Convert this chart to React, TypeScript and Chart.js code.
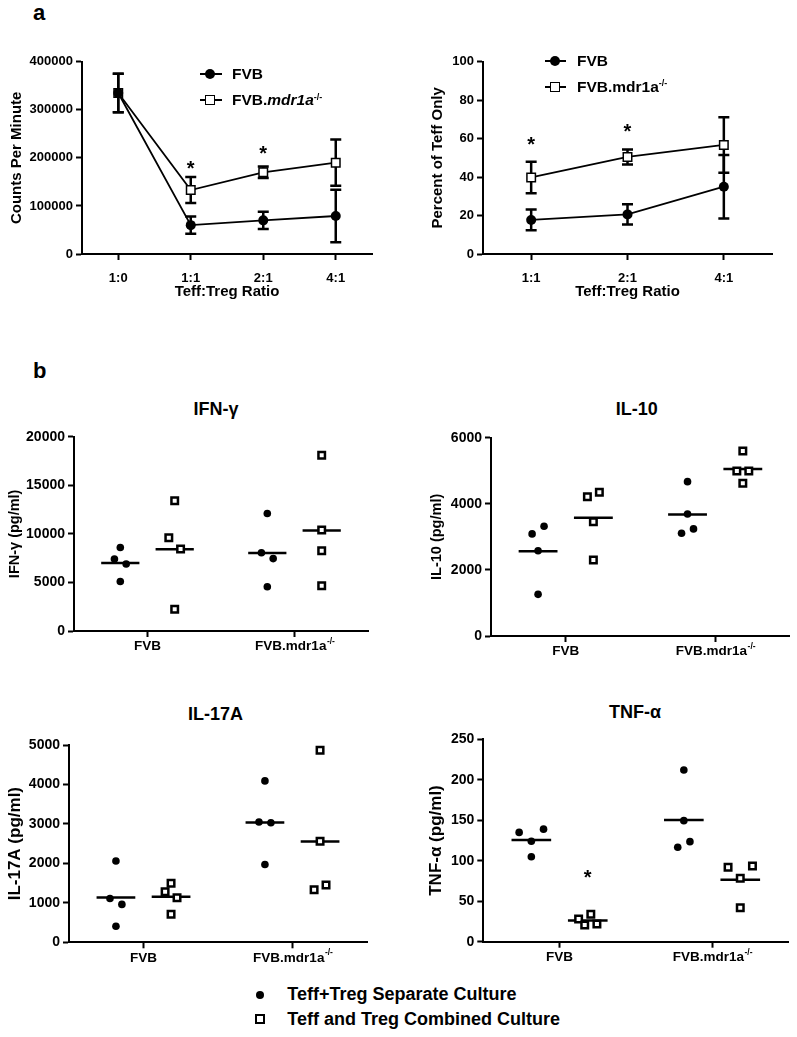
import React, { useEffect, useRef } from 'react';
import { Chart, registerables } from 'chart.js';

Chart.register(...registerables);

const FONT = '"Liberation Sans", Arial, Helvetica, sans-serif';
Chart.defaults.font.family = FONT;
Chart.defaults.color = '#000';

// ---------- Panel a data ----------
const ratioLabels = ['1:0', '1:1', '2:1', '4:1'];
const fvbCpm = [335000, 60000, 70000, 79000];
const fvbCpmSem = [40000, 18000, 18000, 54500];
const mdrCpm = [335000, 133000, 170000, 190000];
const mdrCpmSem = [40000, 27000, 12000, 48000];
const cpmStars = [null, 185000, 216000, null];

const pctLabels = ['1:1', '2:1', '4:1'];
const fvbPct = [17.7, 20.6, 35];
const fvbPctSem = [5.4, 5.3, 16.5];
const mdrPct = [39.8, 50.5, 56.7];
const mdrPctSem = [8.2, 3.9, 14.4];
const pctStars = [59, 65.5, null];

// ---------- Panel b data ----------
const strainLabels = ['FVB', 'FVB.mdr1a'];
const strainSup = ['', '-/-'];

// [FVB group, FVB.mdr1a-/- group]
const ifnSeparate = [[8600, 7400, 6900, 5100], [12100, 8050, 7450, 4550]];
const ifnCombined = [[13400, 9600, 8450, 2250], [18100, 10400, 8250, 4650]];
const ifnSeparateSlots = [[0, -1, 1, 0], [0, -1, 1, 0]];
const ifnCombinedSlots = [[0, -1, 1, 0], [0, 0, 0, 0]];

const il10Separate = [[3320, 3090, 2580, 1260], [4670, 3690, 3240, 3110]];
const il10Combined = [[4350, 4210, 3460, 2300], [5600, 4990, 4990, 4620]];
const il10SeparateSlots = [[1, -1, 0, 0], [0, 0, 1, -1]];
const il10CombinedSlots = [[1, -1, 0, 0], [0, -1, 1, 0]];

const il17Separate = [[2060, 1110, 960, 405], [4090, 3050, 3030, 1970]];
const il17Combined = [[1495, 1283, 1131, 710], [4870, 2560, 1450, 1330]];
const il17SeparateSlots = [[0, -1, 1, 0], [0, -1, 1, 0]];
const il17CombinedSlots = [[0, -1, 1, 0], [0, 0, 1, -1]];

const tnfSeparate = [[139, 135, 124, 105], [212, 149.5, 123.6, 116.6]];
const tnfCombined = [[33.8, 28, 21.9, 20.6], [93.5, 91.9, 78.3, 42]];
const tnfSeparateSlots = [[2, -2, 0, 0], [0, 0, 1, -1]];
const tnfCombinedSlots = [[0.5, -1.5, 1.5, -0.5], [2, -2, 0, 0]];
const tnfCombinedStars = [84, null];

// ---------- layout constants ----------
const GROUP_SHIFT = 0.185;
const SLOT = 0.04;
const MEAN_HALF = 0.13;
const TICK_LEN = 6;
const SUP_PAD = '  ';

const errorBarPlugin = {
  id: 'errorBars',
  beforeDatasetsDraw(chart: any) {
    const ctx = chart.ctx;
    const ys = chart.scales.y;
    chart.data.datasets.forEach((ds: any, di: number) => {
      if (!ds.errors) return;
      const meta = chart.getDatasetMeta(di);
      ctx.save();
      ctx.strokeStyle = '#000';
      ctx.lineWidth = 2.5;
      meta.data.forEach((pt: any, i: number) => {
        const v = ds.data[i];
        const e = ds.errors[i];
        if (v == null || e == null) return;
        const x = pt.x;
        const y1 = ys.getPixelForValue(v + e);
        const y2 = ys.getPixelForValue(v - e);
        ctx.beginPath();
        ctx.moveTo(x, y1);
        ctx.lineTo(x, y2);
        ctx.moveTo(x - 5.5, y1);
        ctx.lineTo(x + 5.5, y1);
        ctx.moveTo(x - 5.5, y2);
        ctx.lineTo(x + 5.5, y2);
        ctx.stroke();
      });
      ctx.restore();
    });
  },
};

const starPlugin = {
  id: 'stars',
  afterDatasetsDraw(chart: any, _a: any, opts: any) {
    const pts = (opts && opts.points) || [];
    const ctx = chart.ctx;
    ctx.save();
    ctx.font = `bold ${opts.size || 18}px ${FONT}`;
    ctx.fillStyle = '#000';
    ctx.textAlign = 'center';
    ctx.textBaseline = 'alphabetic';
    const m = ctx.measureText('*');
    const shift = (m.actualBoundingBoxAscent - m.actualBoundingBoxDescent) / 2;
    pts.forEach((p: any) => {
      const x = chart.scales.x.getPixelForValue(p.x);
      const y = chart.scales.y.getPixelForValue(p.y);
      ctx.fillText('*', x, y + shift);
    });
    ctx.restore();
  },
};

const meanPlugin = {
  id: 'meanLines',
  beforeDatasetsDraw(chart: any) {
    const ctx = chart.ctx;
    const xs = chart.scales.x;
    const ys = chart.scales.y;
    ctx.save();
    ctx.strokeStyle = '#000';
    ctx.lineWidth = 2.5;
    chart.data.datasets.forEach((ds: any) => {
      if (!ds.groups) return;
      ds.groups.forEach((vals: number[], g: number) => {
        const mean = vals.reduce((a, b) => a + b, 0) / vals.length;
        const c = g + ds.groupShift;
        const y = ys.getPixelForValue(mean);
        ctx.beginPath();
        ctx.moveTo(xs.getPixelForValue(c - MEAN_HALF), y);
        ctx.lineTo(xs.getPixelForValue(c + MEAN_HALF), y);
        ctx.stroke();
      });
    });
    ctx.restore();
  },
};

const supPlugin = {
  id: 'tickSup',
  afterDraw(chart: any, _a: any, opts: any) {
    const xs = chart.scales.x;
    const ctx = chart.ctx;
    const size = opts.fontSize;
    ctx.save();
    strainLabels.forEach((lab, i) => {
      const sup = strainSup[i];
      if (!sup) return;
      ctx.font = `bold ${size}px ${FONT}`;
      const wFull = ctx.measureText(lab + SUP_PAD).width;
      const wLab = ctx.measureText(lab).width;
      const x0 = xs.getPixelForValue(i) - wFull / 2 + wLab + 0.5;
      const yMid = xs.top + TICK_LEN + opts.padding + (size * 1.2) / 2;
      ctx.font = `bold ${opts.supSize}px ${FONT}`;
      ctx.textAlign = 'left';
      ctx.textBaseline = 'middle';
      ctx.fillStyle = '#000';
      ctx.fillText(sup, x0, yMid - opts.raise);
    });
    ctx.restore();
  },
};

type Box = {
  x: number; y: number; w: number; h: number;
  l: number; t: number; r: number; b: number;
  titleX: number; titleSize: number; tickSize: number; xH: number;
};

const boxes: Box[] = [
  { x: 0, y: 30, w: 398, h: 290, l: 82, t: 61.7, r: 372, b: 254, titleX: 16.7, titleSize: 15, tickSize: 13, xH: 50 },
  { x: 398, y: 30, w: 399, h: 290, l: 483, t: 61.7, r: 772, b: 254, titleX: 438.3, titleSize: 15, tickSize: 13, xH: 50 },
  { x: 0, y: 420, w: 398, h: 250, l: 74, t: 436.7, r: 368, b: 631, titleX: 15, titleSize: 14.5, tickSize: 14, xH: 30 },
  { x: 398, y: 420, w: 399, h: 250, l: 491, t: 437.7, r: 790, b: 636, titleX: 436.7, titleSize: 14.5, tickSize: 14, xH: 30 },
  { x: 0, y: 725, w: 398, h: 250, l: 69, t: 745, r: 367, b: 942.3, titleX: 15, titleSize: 17, tickSize: 14, xH: 30 },
  { x: 398, y: 725, w: 399, h: 250, l: 483.3, t: 739.3, r: 788.3, b: 941.7, titleX: 436.7, titleSize: 17, tickSize: 14, xH: 30 },
];

const bold = (size: number) => ({ family: FONT, size, weight: 'bold' as const });

function yAxis(box: Box, max: number, step: number, title: string) {
  const W = box.l - box.titleX + (box.titleSize * 1.2) / 2;
  return {
    min: 0,
    max,
    ticks: { stepSize: step, callback: (v: any) => String(v), font: bold(box.tickSize), color: '#000', padding: 3 },
    grid: { display: true, drawOnChartArea: false, drawTicks: true, tickLength: TICK_LEN, tickWidth: 2, tickColor: '#000' },
    border: { display: true, color: '#000', width: 2 },
    title: { display: true, text: title, font: bold(box.titleSize), color: '#000', padding: { top: 0, bottom: 0 } },
    afterFit: (s: any) => { s.width = W; },
  };
}

const baseOptions = {
  responsive: false,
  animation: false as const,
  devicePixelRatio: 1,
  events: [] as any[],
};

function lineConfig(box: Box, labels: string[], fvb: number[], fvbErr: number[], mdr: number[], mdrErr: number[],
  stars: (number | null)[], max: number, step: number, yTitle: string) {
  return {
    type: 'line',
    data: {
      labels,
      datasets: [
        { label: 'FVB', data: fvb, errors: fvbErr, borderColor: '#000', borderWidth: 1.8, pointStyle: 'circle', pointRadius: 5,
          pointBackgroundColor: '#000', pointBorderColor: '#000', pointBorderWidth: 0, order: 0, tension: 0, fill: false, clip: false },
        { label: 'FVB.mdr1a-/-', data: mdr, errors: mdrErr, borderColor: '#000', borderWidth: 1.8, pointStyle: 'rect', pointRadius: 6,
          pointBackgroundColor: '#fff', pointBorderColor: '#000', pointBorderWidth: 1.5, order: 1, tension: 0, fill: false, clip: false },
      ],
    },
    options: {
      ...baseOptions,
      layout: { padding: { left: 0, top: 20, right: 20, bottom: 10 } },
      scales: {
        x: {
          type: 'category',
          offset: true,
          ticks: { font: bold(box.tickSize), color: '#000', padding: 10.5, maxRotation: 0, autoSkip: false },
          grid: { display: true, offset: false, drawOnChartArea: false, drawTicks: true, tickLength: TICK_LEN, tickWidth: 2, tickColor: '#000' },
          border: { display: true, color: '#000', width: 2 },
          title: { display: true, text: 'Teff:Treg Ratio', font: bold(15), color: '#000', padding: { top: 0, bottom: 3 } },
          afterFit: (s: any) => { s.height = box.xH; },
        },
        y: yAxis(box, max, step, yTitle),
      },
      plugins: {
        legend: { display: false },
        tooltip: { enabled: false },
        stars: { size: 20, points: stars.map((v, i) => (v == null ? null : { x: i, y: v })).filter(Boolean) },
      },
    },
    plugins: [errorBarPlugin, starPlugin],
  };
}

function toPoints(groups: number[][], slots: number[][], shift: number) {
  const pts: { x: number; y: number }[] = [];
  groups.forEach((vals, g) => vals.forEach((v, i) => pts.push({ x: g + shift + slots[g][i] * SLOT, y: v })));
  return pts;
}

function scatterConfig(box: Box, sep: number[][], sepSlots: number[][], comb: number[][], combSlots: number[][],
  combStars: (number | null)[], max: number, step: number, yTitle: string) {
  const xTickSize = 13.5;
  const xPad = 1.5;
  return {
    type: 'scatter',
    data: {
      datasets: [
        { label: 'Teff+Treg Separate Culture', data: toPoints(sep, sepSlots, -GROUP_SHIFT), groups: sep, groupShift: -GROUP_SHIFT,
          pointStyle: 'circle', pointRadius: 3.8, pointBackgroundColor: '#000', backgroundColor: '#000', pointBorderWidth: 0, borderWidth: 0,
          showLine: false, clip: false },
        { label: 'Teff and Treg Combined Culture', data: toPoints(comb, combSlots, GROUP_SHIFT), groups: comb, groupShift: GROUP_SHIFT,
          pointStyle: 'rect', pointRadius: 4.6, pointBackgroundColor: '#fff', backgroundColor: '#fff', pointBorderColor: '#000', borderColor: '#000',
          pointBorderWidth: 2.5, borderWidth: 2.5, showLine: false, clip: false },
      ],
    },
    options: {
      ...baseOptions,
      layout: { padding: { left: 0, top: 10, right: 10, bottom: 10 } },
      scales: {
        x: {
          type: 'linear',
          min: -0.5,
          max: 1.5,
          afterBuildTicks: (s: any) => { s.ticks = strainLabels.map((_, i) => ({ value: i })); },
          ticks: {
            callback: (v: any) => strainLabels[v] + (strainSup[v] ? SUP_PAD : ''),
            font: bold(xTickSize), color: '#000', padding: xPad, maxRotation: 0, autoSkip: false,
          },
          grid: { display: true, offset: false, drawOnChartArea: false, drawTicks: true, tickLength: TICK_LEN, tickWidth: 2, tickColor: '#000' },
          border: { display: true, color: '#000', width: 2 },
          afterFit: (s: any) => { s.height = box.xH; },
        },
        y: yAxis(box, max, step, yTitle),
      },
      plugins: {
        legend: { display: false },
        tooltip: { enabled: false },
        stars: { size: 20, points: combStars.map((v, g) => (v == null ? null : { x: g + GROUP_SHIFT, y: v })).filter(Boolean) },
        tickSup: { fontSize: xTickSize, padding: xPad, supSize: 8.5, raise: 5 },
      },
    },
    plugins: [meanPlugin, starPlugin, supPlugin],
  };
}

function placeChart(chart: any, box: Box) {
  const target = { l: box.l - box.x, t: box.t - box.y, r: box.r - box.x, b: box.b - box.y };
  for (let k = 0; k < 5; k++) {
    const ca = chart.chartArea;
    const dl = target.l - ca.left;
    const dt = target.t - ca.top;
    const dr = ca.right - target.r;
    const db = ca.bottom - target.b;
    if (Math.abs(dl) + Math.abs(dt) + Math.abs(dr) + Math.abs(db) < 0.2) break;
    const p = chart.config.options.layout.padding;
    p.left += dl;
    p.top += dt;
    p.right += dr;
    p.bottom += db;
    chart.update();
  }
}

const configs = [
  lineConfig(boxes[0], ratioLabels, fvbCpm, fvbCpmSem, mdrCpm, mdrCpmSem, cpmStars, 400000, 100000, 'Counts Per Minute'),
  lineConfig(boxes[1], pctLabels, fvbPct, fvbPctSem, mdrPct, mdrPctSem, pctStars, 100, 20, 'Percent of Teff Only'),
  scatterConfig(boxes[2], ifnSeparate, ifnSeparateSlots, ifnCombined, ifnCombinedSlots, [null, null], 20000, 5000, 'IFN-\u03b3 (pg/ml)'),
  scatterConfig(boxes[3], il10Separate, il10SeparateSlots, il10Combined, il10CombinedSlots, [null, null], 6000, 2000, 'IL-10 (pg/ml)'),
  scatterConfig(boxes[4], il17Separate, il17SeparateSlots, il17Combined, il17CombinedSlots, [null, null], 5000, 1000, 'IL-17A (pg/ml)'),
  scatterConfig(boxes[5], tnfSeparate, tnfSeparateSlots, tnfCombined, tnfCombinedSlots, tnfCombinedStars, 250, 50, 'TNF-\u03b1 (pg/ml)'),
];

// ---------- HTML text helpers ----------
const baseOff = (size: number) => size * 0.8465;

function Txt(props: { x: number; baseline: number; size: number; center?: boolean; children: any }) {
  const { x, baseline, size, center, children } = props;
  const style: any = {
    position: 'absolute',
    top: baseline - baseOff(size),
    fontSize: size,
    lineHeight: `${size}px`,
    fontWeight: 'bold',
    whiteSpace: 'nowrap',
  };
  if (center) {
    style.left = x - 150;
    style.width = 300;
    style.textAlign = 'center';
  } else {
    style.left = x;
  }
  return <div style={style}>{children}</div>;
}

function Sup(props: { children: any }) {
  return <span style={{ fontSize: '0.58em', position: 'relative', top: '-0.6em' }}>{props.children}</span>;
}

function Glyph(props: { x1: number; x2: number; mx: number; y: number; kind: 'circle' | 'square'; line?: boolean; size: number; border: number }) {
  const { x1, x2, mx, y, kind, line, size, border } = props;
  return (
    <>
      {line && <div style={{ position: 'absolute', left: x1, top: y - 0.9, width: x2 - x1, height: 1.8, background: '#000' }} />}
      {kind === 'circle' ? (
        <div style={{ position: 'absolute', left: mx - size / 2, top: y - size / 2, width: size, height: size, borderRadius: '50%', background: '#000' }} />
      ) : (
        <div style={{ position: 'absolute', left: mx - size / 2, top: y - size / 2, width: size, height: size, boxSizing: 'border-box', border: `${border}px solid #000`, background: '#fff' }} />
      )}
    </>
  );
}

export default function App() {
  const r0 = useRef<HTMLCanvasElement>(null);
  const r1 = useRef<HTMLCanvasElement>(null);
  const r2 = useRef<HTMLCanvasElement>(null);
  const r3 = useRef<HTMLCanvasElement>(null);
  const r4 = useRef<HTMLCanvasElement>(null);
  const r5 = useRef<HTMLCanvasElement>(null);
  const refs = [r0, r1, r2, r3, r4, r5];

  useEffect(() => {
    const charts: any[] = [];
    configs.forEach((cfg, i) => {
      const el = refs[i].current;
      if (!el) return;
      const c = new Chart(el, cfg as any);
      placeChart(c, boxes[i]);
      charts.push(c);
    });
    return () => charts.forEach((c) => c.destroy());
  }, []);

  return (
    <div style={{ position: 'absolute', left: 0, top: 0, width: 797, height: 1037, background: '#fff', fontFamily: FONT, color: '#000', overflow: 'hidden' }}>
      {boxes.map((b, i) => (
        <canvas key={i} ref={refs[i]} width={b.w} height={b.h} style={{ position: 'absolute', left: b.x, top: b.y, width: b.w, height: b.h }} />
      ))}

      <Txt x={33} baseline={20.7} size={22}>a</Txt>
      <Txt x={33} baseline={378.3} size={22}>b</Txt>

      {/* panel a legends */}
      <Glyph x1={200} x2={222} mx={210} y={74} kind="circle" line size={10} border={0} />
      <Txt x={232} baseline={79.5} size={15.5}>FVB</Txt>
      <Glyph x1={200} x2={222} mx={210} y={100} kind="square" line size={10} border={1.5} />
      <Txt x={232} baseline={105.5} size={15.5}>FVB.<i>mdr1a</i><Sup>-/-</Sup></Txt>

      <Glyph x1={545} x2={566} mx={555} y={61} kind="circle" line size={10} border={0} />
      <Txt x={577} baseline={66.3} size={15.5}>FVB</Txt>
      <Glyph x1={545} x2={566} mx={555} y={86.7} kind="square" line size={10} border={1.5} />
      <Txt x={577} baseline={92} size={15.5}>FVB.mdr1a<Sup>-/-</Sup></Txt>

      {/* panel b titles */}
      <Txt x={216} baseline={415.7} size={18} center>IFN-γ</Txt>
      <Txt x={636.7} baseline={415} size={18} center>IL-10</Txt>
      <Txt x={215.5} baseline={720} size={18} center>IL-17A</Txt>
      <Txt x={635} baseline={718.3} size={18} center>TNF-α</Txt>

      {/* panel b legend */}
      <Glyph x1={0} x2={0} mx={260} y={995} kind="circle" size={8} border={0} />
      <Txt x={287.3} baseline={1000} size={18}>Teff+Treg Separate Culture</Txt>
      <Glyph x1={0} x2={0} mx={260} y={1019.3} kind="square" size={10} border={2.5} />
      <Txt x={287.3} baseline={1025} size={18}>Teff and Treg Combined Culture</Txt>
    </div>
  );
}
